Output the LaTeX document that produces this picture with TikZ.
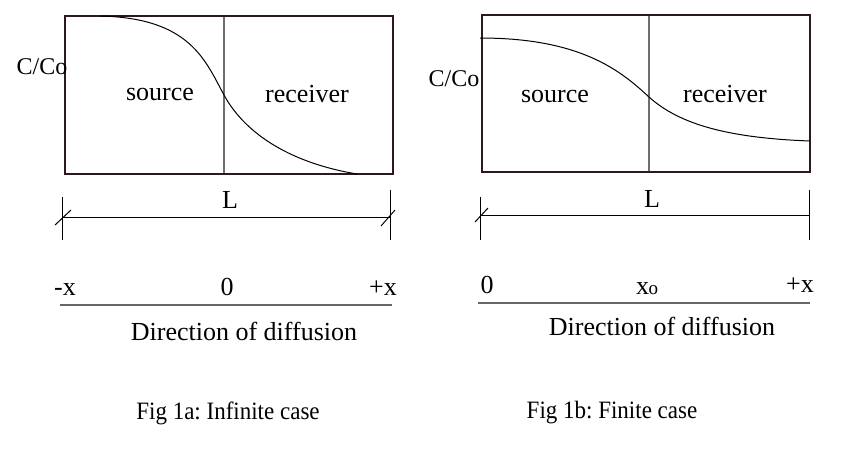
\documentclass[tikz,border=0pt]{standalone}
\usepackage{fontspec}
\setmainfont{Liberation Serif}
\usepackage{tikz}
\usetikzlibrary{calc,positioning}

\definecolor{boxline}{RGB}{45,25,28}
\definecolor{midline}{RGB}{110,110,110}

\tikzset{
    bigtxt/.style={font=\fontsize{26}{26}\selectfont, inner sep=0pt, anchor=base},
    ctxt/.style={font=\fontsize{24}{24}\selectfont, inner sep=0pt, anchor=base},
    captxt/.style={font=\fontsize{25}{25}\selectfont\frenchspacing, inner sep=0pt, xscale=0.92},
    cell/.style={draw=boxline, line width=2pt},
    divider/.style={draw=midline, line width=1.5pt},
    profile/.style={draw=black, line width=1pt},
    dimline/.style={draw=black, line width=1pt},
    axisline/.style={draw=gray!80!black, line width=1.5pt}
}

\begin{document}
\begin{tikzpicture}[x=1pt,y=-1pt]

    \useasboundingbox (0,0) rectangle (851,456);

    % Fig 1a
    \coordinate (aTL) at (65,16);
    \coordinate (aBR) at (393,174);
    \coordinate (aMidT) at (224,16);
    \coordinate (aMidB) at (224,174);
    \draw[divider] (aMidT) -- (aMidB);
    \draw[cell] (aTL) rectangle (aBR);
    \draw[profile] (100,16) .. controls (190,18) and (205,60) .. (224,95)
        .. controls (243,130) and (285,162) .. (357,174);

    \node[ctxt] (aC) at (42,74) {C/Co};
    \node[bigtxt] (aSrc) at (160,100) {source};
    \node[bigtxt] (aRec) at (307,102) {receiver};

    % L
    \coordinate (aDl) at (62,217);
    \coordinate (aDr) at (390,217);
    \draw[dimline] (aDl) -- (aDr);
    \draw[dimline] ($(aDl)+(0,-20)$) -- ($(aDl)+(0,23)$);
    \draw[dimline] ($(aDr)+(0,-27)$) -- ($(aDr)+(0,23)$);
    \draw[dimline] ($(aDl)+(-7,8)$) -- ($(aDl)+(9,-7)$);
    \draw[dimline] ($(aDr)+(-9,9)$) -- ($(aDr)+(5,-7)$);
    \node[bigtxt] (aL) at (230,208) {L};

    % x axis
    \node[bigtxt] (aMinus) at (65,295) {-x};
    \node[bigtxt] (aZero) at (227,295) {0};
    \node[bigtxt] (aPlus) at (383,295) {+x};
    \coordinate (aAl) at (60,305);
    \coordinate (aAr) at (392,305);
    \draw[axisline] (aAl) -- (aAr);
    \node[bigtxt] (aDir) at (244,340) {Direction of diffusion};

    \node[captxt] (aCap) at (228,413) {Fig 1a: Infinite case};

    % Fig 1b
    \coordinate (bTL) at (482,15);
    \coordinate (bBR) at (810,172);
    \coordinate (bMidT) at (649,15);
    \coordinate (bMidB) at (649,172);
    \draw[divider] (bMidT) -- (bMidB);
    \draw[cell] (bTL) rectangle (bBR);
    \draw[profile] (480,38) .. controls (580,38) and (620,70) .. (649,97)
        .. controls (680,125) and (730,138) .. (810,141);

    \node[ctxt] (bC) at (454,86) {C/Co};
    \node[bigtxt] (bSrc) at (555,102) {source};
    \node[bigtxt] (bRec) at (725,102) {receiver};

    % L
    \coordinate (bDl) at (480,215);
    \coordinate (bDr) at (809,215);
    \draw[dimline] (bDl) -- (bDr);
    \draw[dimline] ($(bDl)+(0,-18)$) -- ($(bDl)+(0,25)$);
    \draw[dimline] ($(bDr)+(0,-25)$) -- ($(bDr)+(0,25)$);
    \draw[dimline] ($(bDl)+(-5,7)$) -- ($(bDl)+(8,-7)$);
    \node[bigtxt] (bL) at (652,207) {L};

    % x axis
    \node[bigtxt] (bZero) at (487,293) {0};
    \node[bigtxt] (bXo) at (647,294) {x\kern-0.5pt{\fontsize{19}{19}\selectfont o}};
    \node[bigtxt] (bPlus) at (800,292) {+x};
    \coordinate (bAl) at (478,303);
    \coordinate (bAr) at (810,303);
    \draw[axisline] (bAl) -- (bAr);
    \node[bigtxt] (bDir) at (662,335) {Direction of diffusion};

    \node[captxt] (bCap) at (612,413) {Fig 1b: Finite case};

\end{tikzpicture}
\end{document}
